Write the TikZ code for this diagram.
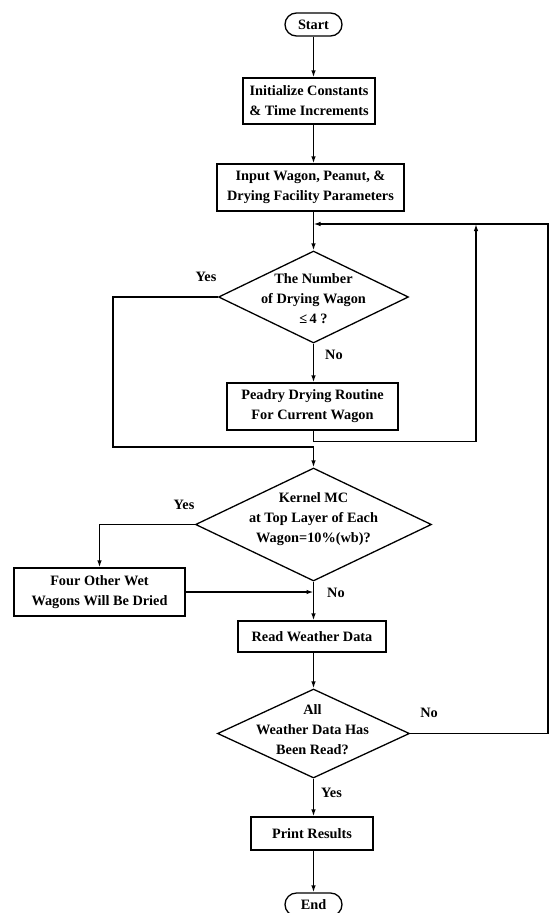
\documentclass[tikz,border=0pt]{standalone}
\usepackage{fontspec}
\setmainfont{Liberation Serif}
\usetikzlibrary{shapes.geometric,shapes.misc,arrows.meta}
\begin{document}
\begin{tikzpicture}[x=1pt,y=-1pt,
  every node/.style={font=\fontsize{14.3}{20}\selectfont\bfseries},
  proc/.style={draw, line width=1.3pt, rectangle, inner sep=0pt, align=center},
  term/.style={draw, line width=1.3pt, rounded rectangle, inner sep=0pt, minimum width=57pt, minimum height=23pt},
  dec/.style={draw, line width=1.3pt, diamond, inner sep=0pt},
  txt/.style={align=center, inner sep=0pt},
  lbl/.style={inner sep=0pt},
  flow/.style={line width=1.3pt, -{Latex[length=7pt,width=4.5pt]}}]
\useasboundingbox (0,0) rectangle (550,913);
% nodes
\node[term] (start) at (313.5,24.5) {Start};
\node[proc, minimum width=132pt, minimum height=46pt] (init) at (309,101) {Initialize Constants\\\& Time Increments};
\node[proc, minimum width=187pt, minimum height=47pt] (input) at (310.5,187.5) {Input Wagon, Peanut, \&\\Drying Facility Parameters};
\node[dec, minimum width=190pt, minimum height=92pt] (d1) at (313.5,297) {};
\node[txt] (d1t) at (313.5,299) {The Number\\of Drying Wagon\\≤\,4 ?};
\node[proc, minimum width=171pt, minimum height=47pt] (peadry) at (312.5,406.5) {Peadry Drying Routine\\For Current Wagon};
\node[dec, minimum width=236pt, minimum height=113pt] (d2) at (313.5,524.5) {};
\node[txt] (d2t) at (313.5,519) {Kernel MC\\at Top Layer of Each\\Wagon=10\%(wb)?};
\node[proc, minimum width=171pt, minimum height=48pt] (four) at (99.5,592) {Four Other Wet\\Wagons Will Be Dried};
\node[proc, minimum width=148pt, minimum height=31pt] (read) at (312,636.5) {Read Weather Data};
\node[dec, minimum width=192pt, minimum height=89pt] (d3) at (313.5,733.5) {};
\node[txt] (d3t) at (312.5,730) {All\\Weather Data Has\\Been Read?};
\node[proc, minimum width=122pt, minimum height=33pt] (print) at (312,833.5) {Print Results};
\node[term] (end) at (313.5,904.5) {End};
% labels
\node[lbl] (y1) at (206,277) {Yes};
\node[lbl, anchor=west] (n1) at (325,355) {No};
\node[lbl] (y2) at (184,505) {Yes};
\node[lbl, anchor=west] (n2) at (327,593) {No};
\node[lbl] (n3) at (429,713) {No};
\node[lbl, anchor=west] (y3) at (321,793) {Yes};
% helper coordinates
\coordinate (fb) at (313.5,224);
\coordinate (ro) at (548,224);
\coordinate (ri) at (476,224);
\coordinate (pb) at (313.5,441.5);
\coordinate (yl) at (113,447);
% connectors
\draw[flow] (start.south) -- (start.south |- init.north);
\draw[flow] (init.south -| start) -- (input.north -| start);
\draw[flow] (input.south -| start) -- (d1.north);
\draw[flow] (d1.south) -- (d1.south |- peadry.north);
\draw[flow] (peadry.south -| pb) -- (pb) -| (ri);
\draw[flow] (d1.west) -| (yl) -- (yl -| d2.north) -- (d2.north);
\draw[flow] (d2.west) -| (four.north);
\draw[flow] (four.east) -- (four.east -| d2.south);
\draw[flow] (d2.south) -- (d2.south |- read.north);
\draw[flow] (read.south -| d3.north) -- (d3.north);
\draw[flow] (d3.east) -| (ro) -- (fb);
\draw[flow] (d3.south) -- (d3.south |- print.north);
\draw[flow] (print.south -| end.north) -- (end.north);
\end{tikzpicture}
\end{document}
